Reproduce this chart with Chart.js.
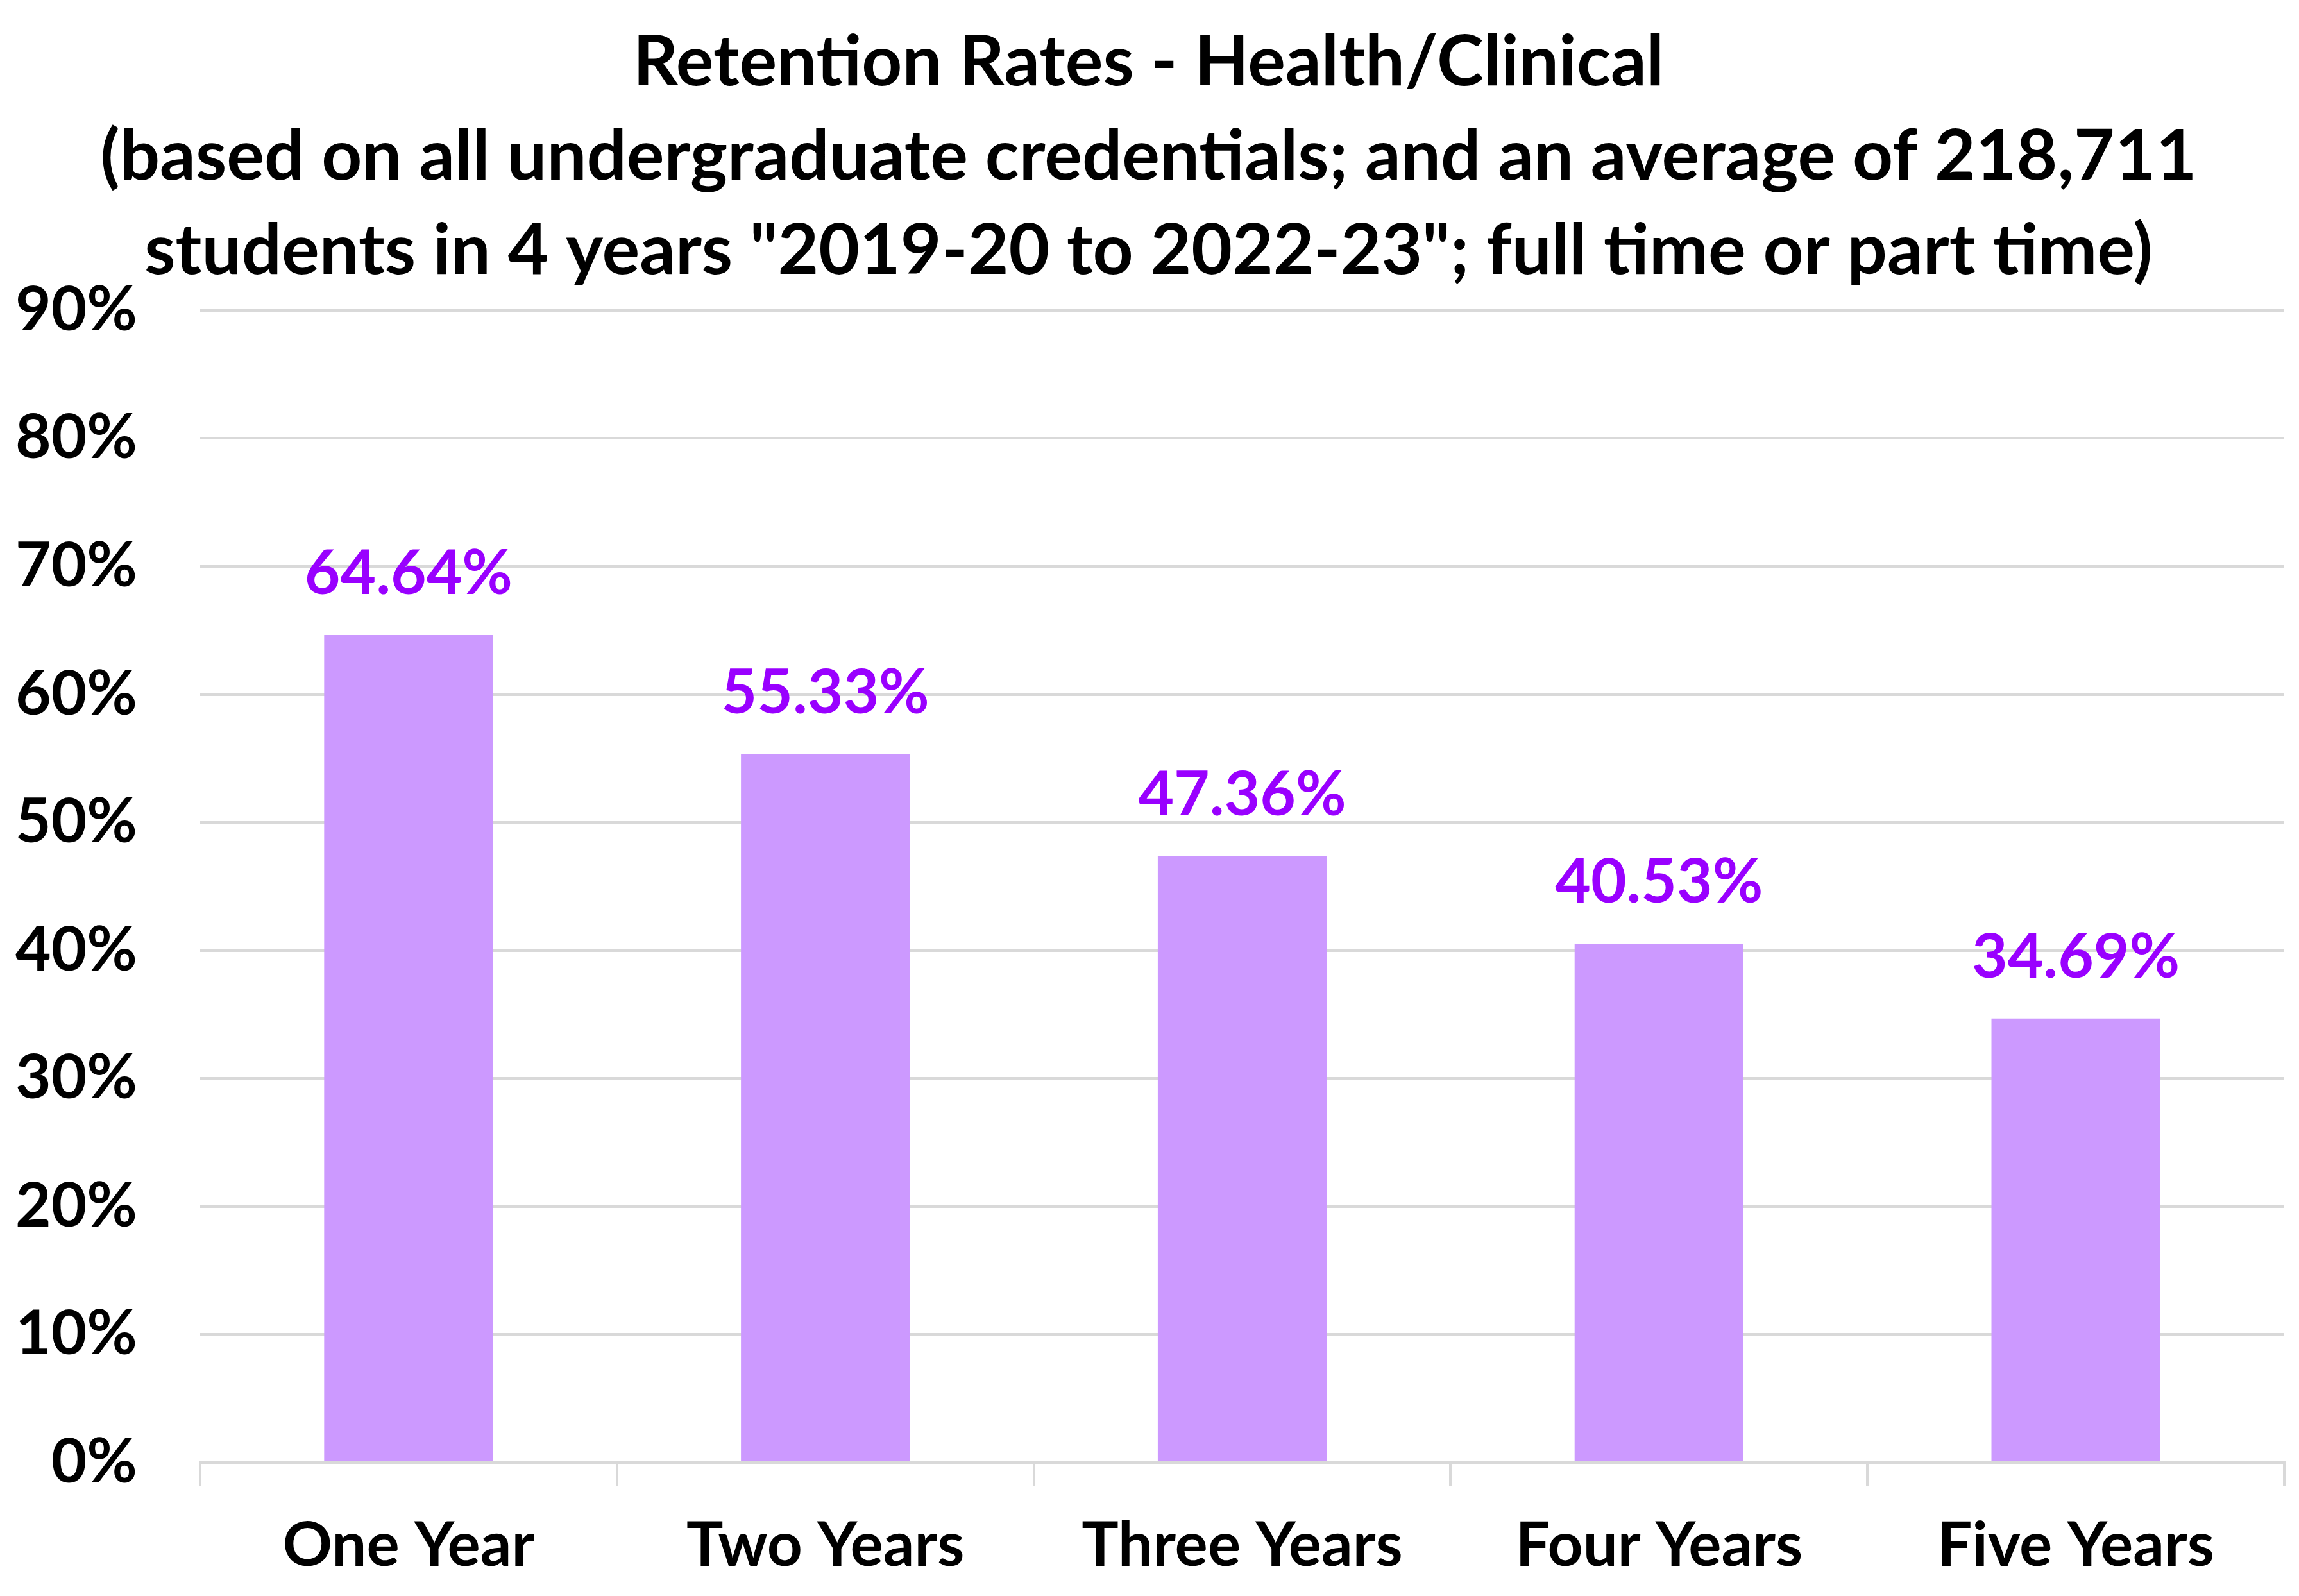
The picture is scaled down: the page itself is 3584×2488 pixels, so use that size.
<!DOCTYPE html>
<html>
<head>
<meta charset="utf-8">
<script src="https://cdn.jsdelivr.net/npm/chart.js@4/dist/chart.umd.min.js"></script>
<style>
  html, body { margin: 0; padding: 0; background: #fff; }
  #wrap { width: 3584px; height: 2488px; }
</style>
</head>
<body>
<div id="wrap"><canvas id="chart" width="3584" height="2488"></canvas></div>
<script>
const titleLines = [
    'Retention Rates - Health/Clinical',
    '(based on all undergraduate credentials; and an average of 218,711',
    'students in 4 years "2019-20 to 2022-23"; full time or part time)'
];
const categories = ['One Year', 'Two Years', 'Three Years', 'Four Years', 'Five Years'];
const retention = [64.64, 55.33, 47.36, 40.53, 34.69];
const yTicks = [0, 10, 20, 30, 40, 50, 60, 70, 80, 90];

const FONT = "Lato, 'Open Sans', sans-serif";
const gridGrey = '#d9d9d9';

// value labels above each bar, placed from the bar elements
const barLabels = {
    id: 'barLabels',
    afterDatasetsDraw(chart) {
        const ctx = chart.ctx;
        const meta = chart.getDatasetMeta(0);
        ctx.save();
        ctx.font = `bold 96px ${FONT}`;
        ctx.fillStyle = '#9900ff';
        ctx.textAlign = 'center';
        ctx.textBaseline = 'alphabetic';
        meta.data.forEach((bar, i) => {
            ctx.fillText(retention[i].toFixed(2) + '%', bar.x, bar.y - 64);
        });
        ctx.restore();
    }
};

const ctx = document.querySelector('#chart').getContext('2d');

const config = {
    type: 'bar',
    data: {
        labels: categories,
        datasets: [
            {
                label: 'Retention',
                data: retention,
                backgroundColor: '#cc99ff',
                borderWidth: 0,
                barPercentage: 0.405,
                categoryPercentage: 1
            }
        ]
    },
    options: {
        responsive: false,
        animation: false,
        devicePixelRatio: 1,
        layout: {
            padding: { left: 20, right: 23, top: 0, bottom: 0 }
        },
        plugins: {
            legend: { display: false },
            tooltip: { enabled: false },
            title: {
                display: true,
                text: titleLines,
                color: '#000',
                font: { family: FONT, size: 110, weight: 'bold', lineHeight: 1.336 },
                padding: { top: 24, bottom: 19 }
            }
        },
        scales: {
            x: {
                grid: {
                    display: true,
                    offset: true,
                    drawOnChartArea: false,
                    drawTicks: true,
                    tickLength: 36,
                    color: gridGrey,
                    lineWidth: 4
                },
                border: { display: true, color: gridGrey, width: 5 },
                ticks: {
                    color: '#000',
                    padding: 36,
                    font: { family: FONT, size: 96, weight: 'bold' },
                    maxRotation: 0
                },
                afterFit(scale) { scale.height = 2488 - 2280; }
            },
            y: {
                min: 0,
                max: 90,
                afterBuildTicks(scale) {
                    scale.ticks = yTicks.map(v => ({ value: v }));
                },
                grid: {
                    drawTicks: false,
                    color: gridGrey,
                    lineWidth: 4
                },
                border: { display: false },
                ticks: {
                    color: '#000',
                    padding: 98,
                    font: { family: FONT, size: 96, weight: 'bold' },
                    callback: v => v + '%'
                },
                afterFit(scale) { scale.width = 312 - 20; }
            }
        }
    },
    plugins: [barLabels]
};

const myChart = new Chart(ctx, config);
</script>
</body>
</html>
